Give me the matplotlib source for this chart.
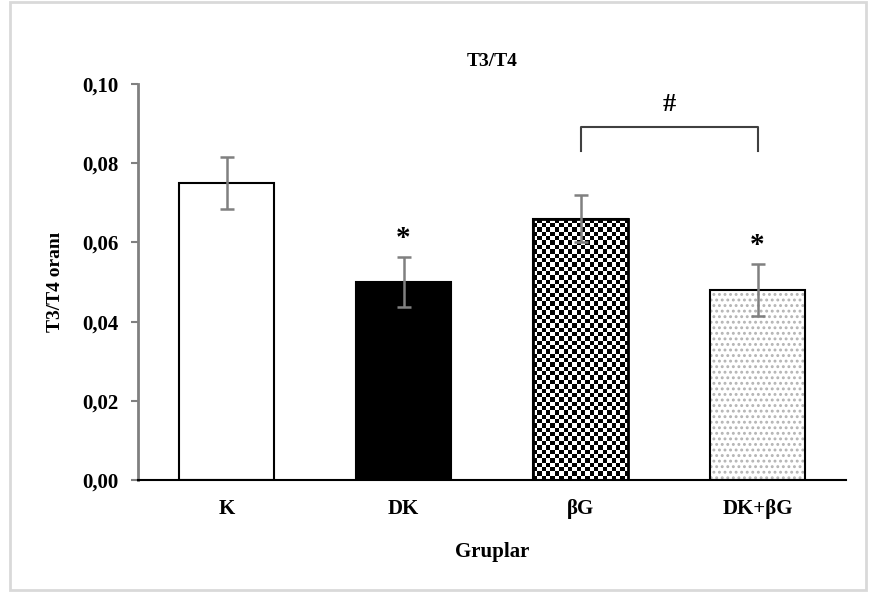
import matplotlib
matplotlib.use("Agg")
import matplotlib.pyplot as plt
import numpy as np
from matplotlib.patches import Rectangle

categories = ["K", "DK", "βG", "DK+βG"]
values = [0.075, 0.050, 0.066, 0.048]
errors = [0.0065, 0.0063, 0.0060, 0.0066]
star_labels = ["", "*", "", "*"]
yticks = [0.00, 0.02, 0.04, 0.06, 0.08, 0.10]
ytick_labels = ["0,00", "0,02", "0,04", "0,06", "0,08", "0,10"]

plt.rcParams['font.family'] = ['Liberation Serif', 'DejaVu Serif']
plt.rcParams['font.weight'] = 'bold'

fig = plt.figure(figsize=(8.73, 5.95), dpi=100)
fig.patches.append(Rectangle((10/873, 1 - 590/595), 856/873, 588/595,
                             transform=fig.transFigure, fill=False,
                             edgecolor='#d9d9d9', linewidth=2))
ax = fig.add_axes([138/873, 1 - 480/595, 708/873, 396/595])

x = np.arange(len(categories))
w = 0.54
# K: white
ax.bar(x[0], values[0], w, color='white', edgecolor='black', linewidth=1.5, zorder=2)
# DK: black
ax.bar(x[1], values[1], w, color='black', edgecolor='black', linewidth=1.5, zorder=2)
# bG: checkerboard
b = ax.bar(x[2], values[2], w, color='white', edgecolor='black', linewidth=1.5, zorder=2)[0]
ncols = 22
cell = w / ncols
px_per_x = 708 / 4.0
px_per_y = 396 / 0.10
cell_h = cell * px_per_x / px_per_y
nrows = int(np.ceil(values[2] / cell_h))
checker = (np.indices((nrows, ncols)).sum(axis=0) % 2).astype(float)
im = ax.imshow(checker, cmap='gray', interpolation='nearest', aspect='auto',
               extent=[x[2] - w/2, x[2] + w/2, 0, nrows * cell_h], origin='lower', zorder=2.5)
im.set_clip_path(b)
ax.bar(x[2], values[2], w, fill=False, edgecolor='black', linewidth=2, zorder=3)
# DK+bG: dotted
plt.rcParams['hatch.linewidth'] = 1.3
ax.bar(x[3], values[3], w, color='white', edgecolor='#b4b4b4', hatch='...', linewidth=0, zorder=2)
ax.bar(x[3], values[3], w, fill=False, edgecolor='black', linewidth=1.5, zorder=3)

ax.errorbar(x, values, yerr=errors, fmt='none', ecolor='#808080', elinewidth=1.8,
            capsize=5, capthick=1.8, zorder=4)

for xi, v, e, s in zip(x, values, errors, star_labels):
    if s:
        ax.text(xi, v + e + 0.0012, s, ha='center', va='bottom', fontsize=21, fontweight='bold')

# bracket
ax.plot([x[2], x[2], x[3], x[3]], [0.0832, 0.0892, 0.0892, 0.0832], color='#404040', lw=1.5, zorder=4)
ax.text((x[2] + x[3]) / 2, 0.0918, "#", ha='center', va='bottom', fontsize=19, fontweight='bold')

ax.set_xlim(-0.5, 3.5)
ax.set_ylim(0, 0.10)
ax.set_yticks(yticks)
ax.set_yticklabels(ytick_labels, fontsize=15, fontweight='bold')
ax.set_xticks(x)
ax.set_xticklabels(categories, fontsize=15, fontweight='bold')
ax.tick_params(axis='x', length=0, pad=14)
ax.tick_params(axis='y', length=5, width=1.5, color='#808080', pad=9)
for s in ['top', 'right']:
    ax.spines[s].set_visible(False)
ax.spines['left'].set_color('#808080')
ax.spines['left'].set_linewidth(2)
ax.spines['bottom'].set_color('black')
ax.spines['bottom'].set_linewidth(1.5)
ax.spines['bottom'].set_zorder(5)

ax.set_title("T3/T4", fontsize=14, fontweight='bold', pad=13)
ax.set_ylabel("T3/T4 oranı", fontsize=14, fontweight='bold', labelpad=13)
ax.set_xlabel("Gruplar", fontsize=15, fontweight='bold', labelpad=16)

fig.savefig("out.png", dpi=100)
